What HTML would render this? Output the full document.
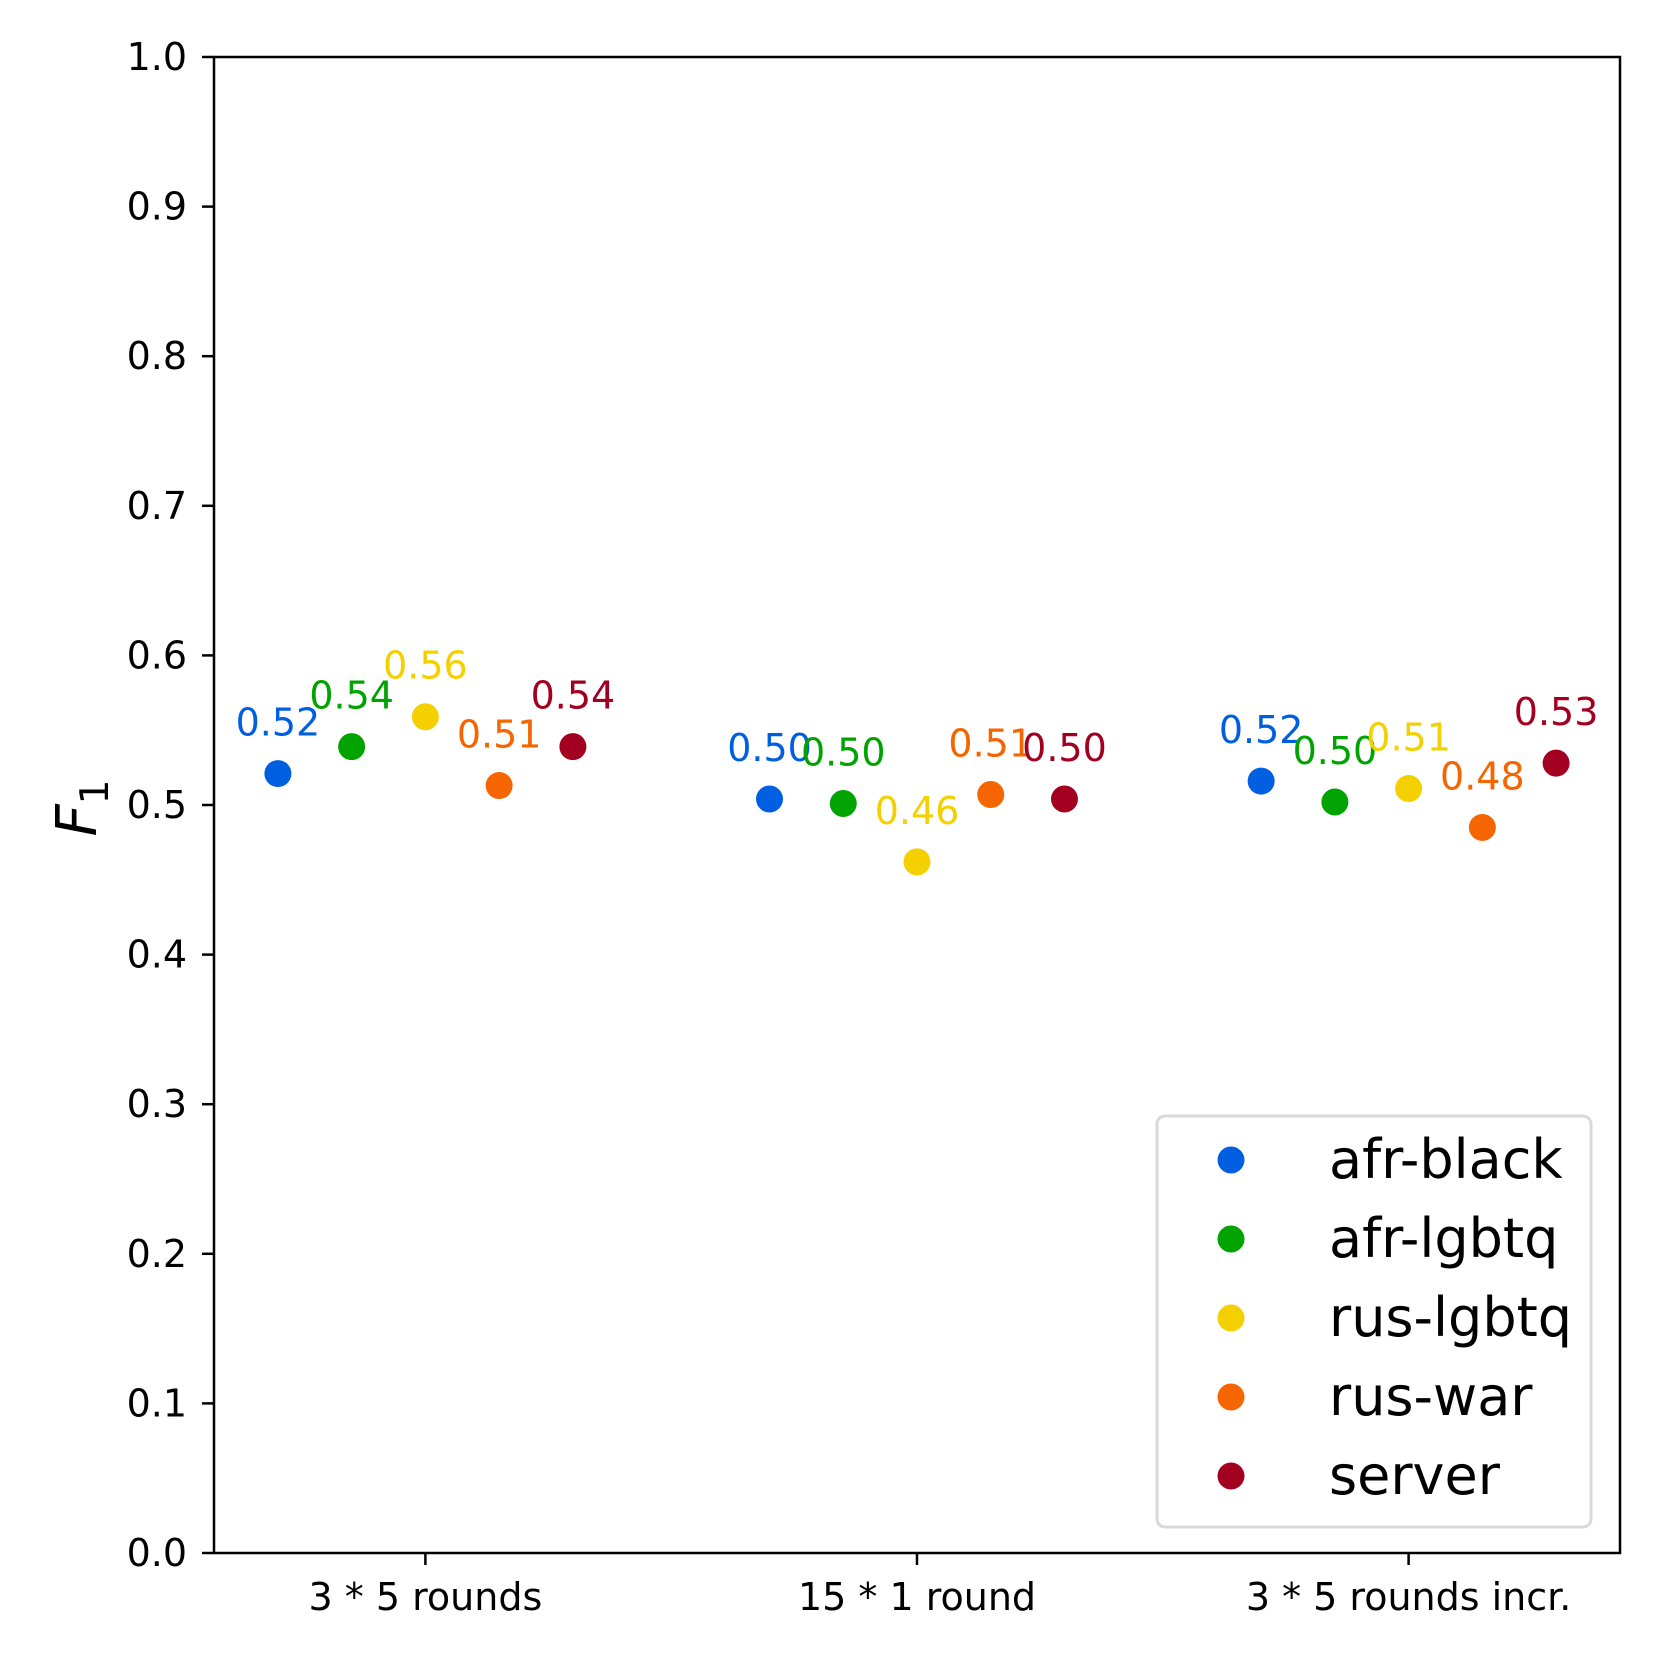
<!DOCTYPE html>
<html><head><meta charset="utf-8"><style>
html,body{margin:0;padding:0;background:#fff}
svg{display:block;font-family:"DejaVu Sans","Liberation Sans",sans-serif}
</style></head><body>
<svg id="chart" width="1661" height="1661" viewBox="0 0 1661 1661">
<rect width="1661" height="1661" fill="#fff"/>
<g id="marks"></g>
<g id="axes"></g>
<text transform="translate(96,808) rotate(-90)" text-anchor="middle" font-size="56" font-style="italic">F<tspan font-style="normal" font-size="39" dy="12">1</tspan></text>
<g id="legend"></g>
</svg>
<script>
const categories = ["3 * 5 rounds", "15 * 1 round", "3 * 5 rounds incr."];
const seriesNames = ["afr-black", "afr-lgbtq", "rus-lgbtq", "rus-war", "server"];
const seriesColors = ["#005fe0", "#00a300", "#f5d000", "#f56600", "#a30021"];
const afrBlack = [0.521, 0.504, 0.516];
const afrLgbtq = [0.539, 0.501, 0.502];
const rusLgbtq = [0.559, 0.462, 0.511];
const rusWar = [0.513, 0.507, 0.485];
const server = [0.539, 0.504, 0.528];
const yTicks = [0.0, 0.1, 0.2, 0.3, 0.4, 0.5, 0.6, 0.7, 0.8, 0.9, 1.0];

const series = [afrBlack, afrLgbtq, rusLgbtq, rusWar, server];
const NS = "http://www.w3.org/2000/svg";
const L = 214, R = 1620, T = 57, B = 1553;
const xMin = -0.43, xMax = 2.43;
const xs = v => L + (v - xMin) / (xMax - xMin) * (R - L);
const ys = v => B - v * (B - T);
function mk(tag, attrs, parent, text) {
  const e = document.createElementNS(NS, tag);
  for (const k in attrs) e.setAttribute(k, attrs[k]);
  if (text !== undefined) e.textContent = text;
  parent.appendChild(e);
  return e;
}
const marks = document.getElementById("marks");
const axes = document.getElementById("axes");
series.forEach((vals, j) => {
  vals.forEach((v, i) => {
    const cx = xs(i + (j - 2) * 0.15), cy = ys(v);
    const c = mk("circle", {cx: cx, cy: cy, r: 13.5, fill: seriesColors[j]}, marks);
    
    
    const t = mk("text", {x: cx, y: cy - 38, "text-anchor": "middle", "font-size": 38, fill: seriesColors[j]}, marks, v.toFixed(2));
    
    
  });
});
const frame = mk("rect", {x: L, y: T, width: R - L, height: B - T, fill: "none", stroke: "#000", "stroke-width": 2.5}, axes);


yTicks.forEach(v => {
  const y = ys(v);
  mk("line", {x1: L - 12, x2: L, y1: y, y2: y, stroke: "#000", "stroke-width": 2.5}, axes);
  const t = mk("text", {x: L - 27, y: y + 13, "text-anchor": "end", "font-size": 38}, axes, v.toFixed(1));
  
  
});
categories.forEach((c, i) => {
  const x = xs(i);
  mk("line", {x1: x, x2: x, y1: B, y2: B + 12, stroke: "#000", "stroke-width": 2.5}, axes);
  const t = mk("text", {x: x, y: B + 57, "text-anchor": "middle", "font-size": 38}, axes, c);
  
  
});
const lg = document.getElementById("legend");
mk("rect", {x: 1157, y: 1116, width: 434, height: 411, rx: 8, fill: "#fff", stroke: "#d9d9d9", "stroke-width": 3}, lg);
seriesNames.forEach((n, j) => {
  const y = 1160 + j * 79;
  const c = mk("circle", {cx: 1231, cy: y, r: 13.5, fill: seriesColors[j]}, lg);
  
  
  const t = mk("text", {x: 1329, y: y + 18, "font-size": 54}, lg, n);
  
  
});
</script>
</body></html>
